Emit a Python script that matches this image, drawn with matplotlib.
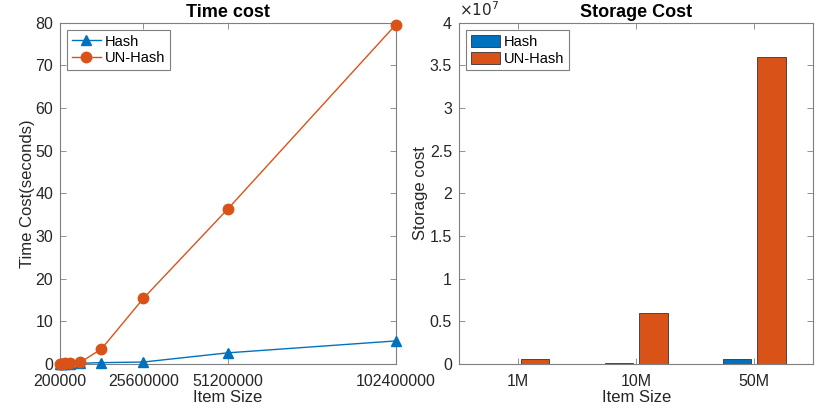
import matplotlib
matplotlib.use('Agg')
import matplotlib.pyplot as plt
import numpy as np
from matplotlib.ticker import FuncFormatter

plt.rcParams['font.family'] = ['Liberation Sans', 'DejaVu Sans']

# Time cost data
item_sizes = [200000, 400000, 800000, 1600000, 3200000, 6400000,
              12800000, 25600000, 51200000, 102400000]
hash_time = [0.05, 0.06, 0.07, 0.08, 0.1, 0.15, 0.3, 0.45, 2.6, 5.4]
unhash_time = [0.05, 0.08, 0.1, 0.15, 0.2, 0.4, 3.5, 15.4, 36.3, 79.6]
time_xticks = [200000, 25600000, 51200000, 102400000]

# Storage cost data
storage_labels = ['1M', '10M', '50M']
hash_storage = [0.01e6, 0.12e6, 0.6e6]
unhash_storage = [0.6e6, 6.0e6, 36.0e6]

blue = '#0072BD'
orange = '#D95319'
axis_col = '#262626'

fig = plt.figure(figsize=(8.3, 4.08), dpi=100)

def style_axes(ax):
    for s in ax.spines.values():
        s.set_color('#7f7f7f')
        s.set_linewidth(0.8)
    ax.tick_params(direction='in', top=True, right=True, labelsize=11.5,
                   length=4, width=0.6, colors='#7f7f7f', labelcolor=axis_col)
    ax.tick_params(axis='x', pad=7)
    ax.tick_params(axis='y', pad=5)

# Left: time cost
ax1 = fig.add_axes([0.0723, 0.108, 0.4047, 0.836])
ax1.plot(item_sizes, hash_time, '-^', color=blue, lw=1, ms=7.5, label='Hash',
         clip_on=False, zorder=3)
ax1.plot(item_sizes, unhash_time, '-o', color=orange, lw=1, ms=7.5, label='UN-Hash',
         clip_on=False, zorder=3)
ax1.set_xlim(200000, 102400000)
ax1.set_ylim(0, 80)
ax1.set_xticks(time_xticks)
ax1.set_xticklabels([str(v) for v in time_xticks])
ax1.set_yticks(np.arange(0, 81, 10))
ax1.set_xlabel('Item Size', fontsize=12, color=axis_col, labelpad=1)
ax1.set_ylabel('Time Cost(seconds)', fontsize=12, color=axis_col, labelpad=0)
ax1.set_title('Time cost', fontsize=13, fontweight='bold', pad=4)
style_axes(ax1)
leg = ax1.legend(loc='upper left', fontsize=10.5, fancybox=False, framealpha=1,
                 edgecolor='#7f7f7f', borderpad=0.3, handlelength=2.0,
                 labelspacing=0.2, borderaxespad=0.5, handletextpad=0.3)
leg.get_frame().set_linewidth(0.8)

# Right: storage cost
ax2 = fig.add_axes([0.553, 0.108, 0.427, 0.836])
x = np.arange(1, len(storage_labels) + 1)
w = 0.24
off = 0.145
ax2.bar(x - off, hash_storage, w, color=blue, edgecolor='#333333', lw=0.6, label='Hash')
ax2.bar(x + off, unhash_storage, w, color=orange, edgecolor='#333333', lw=0.6, label='UN-Hash')
ax2.set_xlim(0.5, 3.5)
ax2.set_ylim(0, 4e7)
ax2.set_xticks(x)
ax2.set_xticklabels(storage_labels)
ax2.set_yticks(np.arange(0, 4.01e7, 0.5e7))
ax2.yaxis.set_major_formatter(FuncFormatter(lambda v, p: f'{v / 1e7:g}'))
ax2.text(0.0, 1.01, r'$\times10^{7}$', transform=ax2.transAxes, fontsize=11,
         color=axis_col, ha='left', va='bottom')
ax2.set_xlabel('Item Size', fontsize=12, color=axis_col, labelpad=1)
ax2.set_ylabel('Storage cost', fontsize=12, color=axis_col, labelpad=1)
ax2.set_title('Storage Cost', fontsize=13, fontweight='bold', pad=4)
style_axes(ax2)
leg2 = ax2.legend(loc='upper left', fontsize=10.5, fancybox=False, framealpha=1,
                  edgecolor='#7f7f7f', borderpad=0.3, handlelength=2.0,
                  handleheight=0.9, labelspacing=0.2, borderaxespad=0.5,
                  handletextpad=0.3)
leg2.get_frame().set_linewidth(0.8)

fig.savefig('out.png', dpi=100)
